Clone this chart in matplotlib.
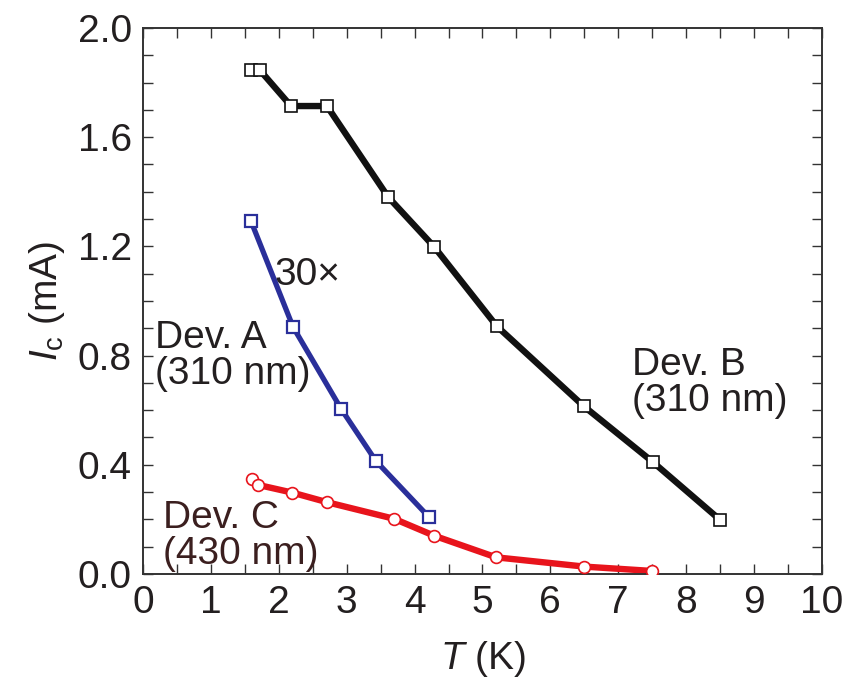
import matplotlib.pyplot as plt
from matplotlib.ticker import MultipleLocator

plt.rcParams["font.family"] = ["Liberation Sans", "DejaVu Sans"]
plt.rcParams["mathtext.fontset"] = "custom"
plt.rcParams["mathtext.rm"] = "Liberation Sans"
plt.rcParams["mathtext.it"] = "Liberation Sans:italic"

# Critical current vs temperature for three devices
t_a = [1.59, 2.21, 2.92, 3.43, 4.21]
ic_a = [1.293, 0.905, 0.604, 0.414, 0.209]

t_b = [1.59, 1.72, 2.18, 2.71, 3.61, 4.29, 5.21, 6.49, 7.51, 8.50]
ic_b = [1.846, 1.846, 1.714, 1.714, 1.381, 1.198, 0.908, 0.615, 0.410, 0.198]

t_c = [1.60, 1.70, 2.20, 2.71, 3.70, 4.29, 5.20, 6.50, 7.50]
ic_c = [0.347, 0.326, 0.298, 0.263, 0.202, 0.140, 0.061, 0.027, 0.011]

text_color = "#231f20"
blue = "#2a2f9a"
red = "#e8141c"

fig = plt.figure(figsize=(8.48, 6.82), dpi=100)
ax = fig.add_axes([0.1686, 0.1584, 0.8007, 0.8006])

# Dev. B
ax.plot(t_b[1:], ic_b[1:], color="#111111", lw=4.6, solid_capstyle="butt", zorder=2)
ax.plot(t_b, ic_b, ls="none", marker="s", ms=9, mfc="white", mec="#111111",
        mew=1.2, zorder=3)

# Dev. A
ax.plot(t_a, ic_a, color=blue, lw=3.8, solid_capstyle="butt", zorder=2)
ax.plot(t_a, ic_a, ls="none", marker="s", ms=9, mfc="white", mec=blue,
        mew=1.6, zorder=3)

# Dev. C
ax.plot(t_c[1:], ic_c[1:], color=red, lw=4.6, solid_capstyle="butt", zorder=2)
ax.plot(t_c, ic_c, ls="none", marker="o", ms=8.5, mfc="white", mec=red,
        mew=1.2, zorder=3)

fs = 28
ax.text(1.94, 1.06, "30\u00d7", fontsize=fs, color=text_color, va="baseline")
ax.text(0.18, 0.80, "Dev. A\n(310 nm)", fontsize=fs, color=text_color,
        va="center", ha="left", linespacing=1.0)
ax.text(7.2, 0.70, "Dev. B\n(310 nm)", fontsize=fs, color=text_color,
        va="center", ha="left", linespacing=1.0)
ax.text(0.29, 0.14, "Dev. C\n(430 nm)", fontsize=fs, color="#3b1f1f",
        va="center", ha="left", linespacing=1.0)

ax.set_xlim(0, 10)
ax.set_ylim(0, 2.0)
ax.xaxis.set_major_locator(MultipleLocator(1))
ax.xaxis.set_minor_locator(MultipleLocator(0.5))
ax.yaxis.set_major_locator(MultipleLocator(0.4))
ax.yaxis.set_minor_locator(MultipleLocator(0.1))
ax.yaxis.set_major_formatter(lambda v, _: f"{v:.1f}")

ax.tick_params(which="both", direction="in", top=True, right=True,
               length=7, width=1.0, color="#333333")
ax.tick_params(which="major", labelsize=fs, labelcolor=text_color, pad=8)
for s in ax.spines.values():
    s.set_linewidth(1.4)
    s.set_color("#333333")

ax.set_xlabel(r"$\mathit{T}$ (K)", fontsize=fs, color=text_color, labelpad=13)
ax.set_ylabel(r"$\mathit{I}_{\mathrm{c}}$ (mA)", fontsize=fs, color=text_color,
              labelpad=8)

fig.savefig("out.png", dpi=100)
